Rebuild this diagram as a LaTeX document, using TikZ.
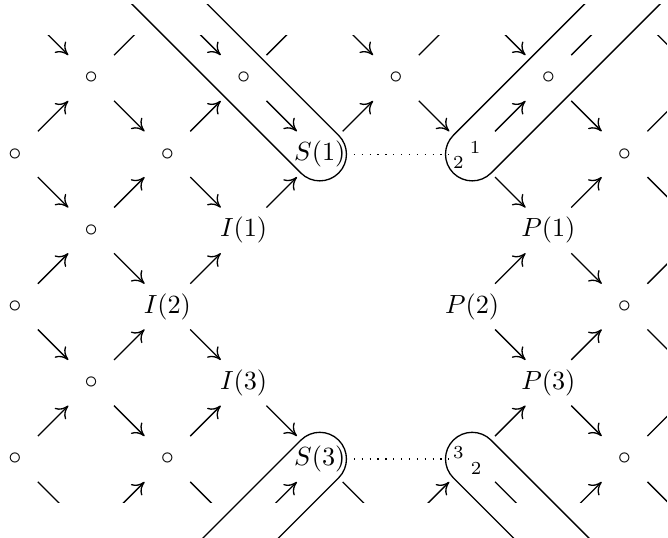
\documentclass[tikz,border=0pt]{standalone}
\usetikzlibrary{arrows.meta, calc}

\begin{document}
\begin{tikzpicture}[x=1.02cm, y=1.02cm,
    dot/.style={inner sep=1pt},
    lab/.style={inner sep=3pt},
    port/.style={inner sep=0pt, minimum size=0.61cm},
    num/.style={font=\scriptsize, inner sep=0pt},
    stub/.style={line width=0.5pt, shorten <=0.433cm, shorten >=0.433cm},
    arr/.style={stub, -{To[length=4.5pt, width=6pt]}},
    capsule/.style={line width=0.5pt},
    link/.style={line width=0.5pt, dash pattern=on 0.5pt off 2.5pt}
  ]
  \useasboundingbox (-0.197,1.024) rectangle (8.570,-6.024);
  % lattice points
  \foreach \i/\k in {1/1,3/1,5/1,7/1,0/2,2/2,8/2,1/3,0/4,8/4,1/5,0/6,2/6,8/6}
    \node[dot] (v\i\k) at (\i,1-\k) {$\circ$};
  \node[lab, alias=S1] (v42) at (4,-1) {$S(1)$};
  \node[lab, alias=S3] (v46) at (4,-5) {$S(3)$};
  \node[lab, alias=I1] (v33) at (3,-2) {$I(1)$};
  \node[lab, alias=I2] (v24) at (2,-3) {$I(2)$};
  \node[lab, alias=I3] (v35) at (3,-4) {$I(3)$};
  \node[lab, alias=P1] (v73) at (7,-2) {$P(1)$};
  \node[lab, alias=P2] (v64) at (6,-3) {$P(2)$};
  \node[lab, alias=P3] (v75) at (7,-4) {$P(3)$};
  \node[port, alias=R1] (v62) at (6,-1) {};
  \node[port, alias=R3] (v66) at (6,-5) {};
  \foreach \i/\k in {0/0,2/0,4/0,6/0,8/0,1/7,3/7,5/7,7/7,9/1,9/3,9/5,9/7}
    \coordinate (v\i\k) at (\i,1-\k);

  % arrows of the lattice, none into the hole
  \begin{scope}
    \clip (-0.197,0.564) rectangle (8.556,-5.577);
    \foreach \i in {0,...,8}
      \foreach \k in {0,...,7} {
        \pgfmathtruncatemacro\isnode{mod(\i+\k,2)==0}
        \pgfmathtruncatemacro\inhole{(\i>3)*(\i<6)*(\k>2)*(\k<6)}
        \pgfmathtruncatemacro\ii{\i+1}
        \pgfmathtruncatemacro\kd{\k+1}
        \pgfmathtruncatemacro\ku{\k-1}
        \pgfmathtruncatemacro\kdout{(\ii>3)*(\ii<6)*(\kd>2)*(\kd<6)+(\kd>7)}
        \pgfmathtruncatemacro\kuout{(\ii>3)*(\ii<6)*(\ku>2)*(\ku<6)+(\ku<0)}
        \pgfmathtruncatemacro\kdcut{(\ii>8)+(\kd>6)}
        \pgfmathtruncatemacro\kucut{(\ii>8)+(\ku<1)}
        \ifnum\isnode=1 \ifnum\inhole=0
          \ifnum\kdout=0
            \ifnum\kdcut=0 \draw[arr] (v\i\k.center) -- (v\ii\kd.center);
            \else \draw[stub] (v\i\k.center) -- (v\ii\kd.center); \fi
          \fi
          \ifnum\kuout=0
            \ifnum\kucut=0 \draw[arr] (v\i\k.center) -- (v\ii\ku.center);
            \else \draw[stub] (v\i\k.center) -- (v\ii\ku.center); \fi
          \fi
        \fi\fi
      }
  \end{scope}

  \begin{scope}
    \clip (-0.197,0.971) rectangle (8.570,-6.024);
    \draw[capsule] ($(S1)!1.25!(v20)+(45:0.35)$) -- ($(S1)+(45:0.35)$)
      arc[start angle=45, end angle=-135, radius=0.35]
      -- ($(S1)!1.25!(v20)+(-135:0.35)$);
    \draw[capsule] ($(R1)!1.25!(v80)+(135:0.35)$) -- ($(R1)+(135:0.35)$)
      arc[start angle=135, end angle=315, radius=0.35]
      -- ($(R1)!1.25!(v80)+(-45:0.35)$);
    \draw[capsule] ($(S3)!1.5!(v37)+(135:0.35)$) -- ($(S3)+(135:0.35)$)
      arc[start angle=135, end angle=-45, radius=0.35]
      -- ($(S3)!1.5!(v37)+(-45:0.35)$);
    \draw[capsule] ($(R3)!1.5!(v77)+(45:0.35)$) -- ($(R3)+(45:0.35)$)
      arc[start angle=45, end angle=225, radius=0.35]
      -- ($(R3)!1.5!(v77)+(225:0.35)$);
  \end{scope}

  \draw[link] (S1) -- (R1);
  \draw[link] (S3) -- (R3);
  \node[num] (R1a) at ($(R1)+(0.04,0.09)$) {1};
  \node[num] (R1b) at ($(R1)+(-0.18,-0.105)$) {2};
  \node[num] (R3a) at ($(R3)+(-0.18,0.09)$) {3};
  \node[num] (R3b) at ($(R3)+(0.05,-0.12)$) {2};
\end{tikzpicture}
\end{document}
